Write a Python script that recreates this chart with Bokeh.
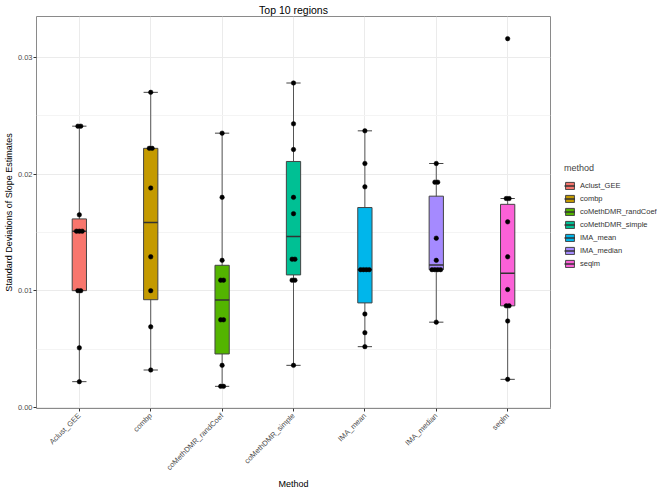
import math
import numpy as np
from bokeh.plotting import figure
from bokeh.models import (Range1d, FixedTicker, Legend, LegendItem,
                          ColumnDataSource, PrintfTickFormatter)
from bokeh.embed import file_html
from bokeh.resources import INLINE

# ---- data ----
methods = ["Aclust_GEE", "combp", "coMethDMR_randCoef", "coMethDMR_simple",
           "IMA_mean", "IMA_median", "seqlm"]
colors = ["#F8766D", "#C49A00", "#53B400", "#00C094", "#00B6EB", "#A58AFF", "#FB61D7"]

aclust_gee = [0.0241, 0.0241, 0.0165, 0.0151, 0.0151, 0.0151, 0.0100, 0.0100, 0.0051, 0.0022]
combp = [0.0270, 0.0222, 0.0222, 0.0188, 0.0129, 0.0100, 0.0069, 0.0032]
comethdmr_randcoef = [0.0235, 0.0180, 0.0126, 0.0109, 0.0109, 0.0075, 0.0075, 0.0036, 0.0018, 0.0018]
comethdmr_simple = [0.0278, 0.0243, 0.0221, 0.0180, 0.0166, 0.0127, 0.0127, 0.0109, 0.0109, 0.0036]
ima_mean = [0.0237, 0.0209, 0.0189, 0.0118, 0.0118, 0.0118, 0.0118, 0.0080, 0.0064, 0.0052]
ima_median = [0.0209, 0.0193, 0.0193, 0.0145, 0.0126, 0.0118, 0.0118, 0.0118, 0.0118, 0.0073]
seqlm = [0.0316, 0.0179, 0.0179, 0.0159, 0.0129, 0.0101, 0.0087, 0.0087, 0.0074, 0.0024]

series = [aclust_gee, combp, comethdmr_randcoef, comethdmr_simple, ima_mean, ima_median, seqlm]

y_ticks = [0.00, 0.01, 0.02, 0.03]
y_minor = [0.005, 0.015, 0.025]

FONT = "Liberation Sans"
BOX_W = 0.2
DOT_STEP = 0.04


def box_stats(v):
    a = np.sort(np.asarray(v, dtype=float))
    q1, med, q3 = np.percentile(a, [25, 50, 75])
    iqr = q3 - q1
    lo = a[a >= q1 - 1.5 * iqr].min()
    hi = a[a <= q3 + 1.5 * iqr].max()
    return lo, q1, med, q3, hi


def dot_offsets(v):
    offs = []
    seen = {}
    counts = {val: v.count(val) for val in v}
    for val in v:
        k = seen.get(val, 0)
        seen[val] = k + 1
        n = counts[val]
        offs.append((k - (n - 1) / 2.0) * DOT_STEP)
    return offs


p = figure(frame_width=514, frame_height=392, output_backend="svg", toolbar_location=None,
           x_range=Range1d(0.4, len(methods) + 0.6),
           y_range=Range1d(-0.0001, 0.0335),
           title="Top 10 regions",
           min_border_left=0, min_border_right=0, min_border_top=0, min_border_bottom=0)

p.title.align = "center"
p.title.text_font = FONT
p.title.text_font_size = "10.5px"
p.title.text_font_style = "normal"
p.title.text_color = "#000000"
p.title.standoff = 2

p.background_fill_color = "white"
p.outline_line_color = "#8a8a8a"
p.outline_line_width = 1

# axes
p.xaxis.ticker = FixedTicker(ticks=list(range(1, len(methods) + 1)))
p.xaxis.major_label_overrides = {i + 1: m for i, m in enumerate(methods)}
p.xaxis.major_label_orientation = math.pi / 4
p.xaxis.axis_label = "Method"
p.yaxis.ticker = FixedTicker(ticks=y_ticks, minor_ticks=y_minor)
p.yaxis.formatter = PrintfTickFormatter(format="%.2f")
p.yaxis.axis_label = "Standard Deviations of Slope Estimates"

for ax in (p.xaxis[0], p.yaxis[0]):
    ax.axis_line_color = None
    ax.major_tick_line_color = "#333333"
    ax.major_tick_out = 3
    ax.major_tick_in = 0
    ax.minor_tick_out = 0
    ax.minor_tick_in = 0
    ax.major_label_text_font = FONT
    ax.major_label_text_font_size = "7.5px"
    ax.major_label_text_color = "#4d4d4d"
    ax.major_label_standoff = 1
    ax.axis_label_text_font = FONT
    ax.axis_label_text_font_size = "9px"
    ax.axis_label_text_font_style = "normal"
    ax.axis_label_text_color = "#000000"
    ax.axis_label_standoff = 1
p.xaxis.major_label_standoff = 3

# grid
p.xgrid.ticker = FixedTicker(ticks=list(range(1, len(methods) + 1)))
p.xgrid.grid_line_color = "#ebebeb"
p.ygrid.grid_line_color = "#ebebeb"
p.ygrid.minor_grid_line_color = "#f4f4f4"

legend_items = []
for i, (name, col, vals) in enumerate(zip(methods, colors, series)):
    x = i + 1
    lo, q1, med, q3, hi = box_stats(vals)
    # whisker line and caps
    p.segment(x0=[x], y0=[lo], x1=[x], y1=[hi], line_color="#555555", line_width=1)
    p.segment(x0=[x - BOX_W / 2, x - BOX_W / 2], y0=[lo, hi],
              x1=[x + BOX_W / 2, x + BOX_W / 2], y1=[lo, hi],
              line_color="#444444", line_width=1)
    # box
    box_r = p.vbar(x=[x], width=BOX_W, bottom=[q1], top=[q3], fill_color=col,
                   line_color="#444444", line_width=1)
    med_r = p.segment(x0=[x - BOX_W / 2], y0=[med], x1=[x + BOX_W / 2], y1=[med],
                      line_color="#333333", line_width=1.5)
    legend_items.append(LegendItem(label=name, renderers=[box_r, med_r]))

# points
for i, vals in enumerate(series):
    offs = dot_offsets(vals)
    src = ColumnDataSource(dict(x=[i + 1 + o for o in offs], y=vals))
    p.scatter(x="x", y="y", source=src, size=4.5, fill_color="black",
              line_color="black", line_width=0.5)

legend = Legend(items=legend_items, title="method", location=(14, 140))
legend.title_text_font = FONT
legend.title_text_font_size = "9px"
legend.title_text_font_style = "normal"
legend.title_standoff = 8
legend.label_text_font = FONT
legend.label_text_font_size = "7.5px"
legend.label_text_color = "#333333"
legend.label_height = 9
legend.label_standoff = 5
legend.glyph_width = 11
legend.glyph_height = 9
legend.spacing = 4
legend.padding = 2
legend.margin = 0
legend.border_line_color = None
legend.background_fill_color = None
p.add_layout(legend, "right")

open("out.html", "w").write(file_html(p, INLINE))
